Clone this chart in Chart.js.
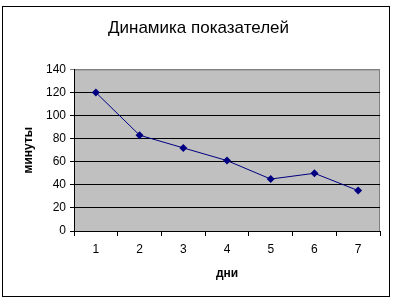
<!DOCTYPE html>
<html lang="ru">
<head>
  <meta charset="UTF-8" />
  <title>Динамика показателей</title>
  <script src="https://cdn.jsdelivr.net/npm/chart.js"></script>
  <style>
    html, body { margin: 0; padding: 0; background: #fff; }
    #wrap { width: 397px; height: 303px; position: relative; }
  </style>
</head>
<body>
  <div id="wrap"><canvas id="myChart" width="397" height="303"></canvas></div>

  <script>
    // chart data
    const days = ['1', '2', '3', '4', '5', '6', '7'];
    const minutes = [120, 83, 72, 61, 45, 50, 35];
    const yTicks = [0, 20, 40, 60, 80, 100, 120, 140];

    const chartTitle = 'Динамика показателей';
    const xTitle = 'дни';
    const yTitle = 'минуты';

    // grey plot area + outer black frame
    const frame = {
      id: 'frame',
      beforeDraw(chart) {
        const { ctx, chartArea: a } = chart;
        ctx.save();
        ctx.fillStyle = '#c0c0c0';
        ctx.fillRect(a.left, a.top, a.right - a.left, a.bottom - a.top);
        ctx.strokeStyle = '#808080';
        ctx.lineWidth = 1;
        ctx.strokeRect(a.left + 0.5, a.top + 0.5, a.right - a.left - 1, a.bottom - a.top);
        ctx.strokeStyle = '#000';
        ctx.strokeRect(2.5, 6.5, 387, 290);
        ctx.restore();
      }
    };

    Chart.defaults.font.family = 'Arial, "Liberation Sans", sans-serif';
    Chart.defaults.color = '#000';

    new Chart(document.getElementById('myChart').getContext('2d'), {
      type: 'line',
      data: {
        labels: days,
        datasets: [{
          data: minutes,
          borderColor: '#000080',
          backgroundColor: '#000080',
          borderWidth: 1,
          pointStyle: 'rectRot',
          pointRadius: 4,
          pointBorderWidth: 0,
          tension: 0
        }]
      },
      options: {
        responsive: false,
        animation: false,
        layout: { padding: { top: 8, left: 17, right: 17, bottom: 18 } },
        plugins: {
          legend: { display: false },
          tooltip: { enabled: false },
          title: {
            display: true,
            text: chartTitle,
            font: { size: 17, weight: 'normal' },
            padding: { top: 10, bottom: 31 }
          }
        },
        scales: {
          x: {
            offset: true,
            grid: { offset: true, drawOnChartArea: false, color: '#000', tickLength: 5 },
            border: { color: '#000' },
            ticks: { font: { size: 12 }, padding: 6 },
            title: { display: true, text: xTitle, font: { size: 12, weight: 'bold' }, padding: { top: 6 } },
            afterFit(scale) { scale.height = 54; }
          },
          y: {
            min: 0,
            max: 140,
            afterBuildTicks(scale) { scale.ticks = yTicks.map(v => ({ value: v })); },
            grid: {
              color: c => (c.tick && c.tick.value === 140) ? '#808080' : '#000',
              tickLength: 4
            },
            border: { color: '#000' },
            ticks: { font: { size: 12 }, padding: 4 },
            title: { display: true, text: yTitle, font: { size: 12, weight: 'bold' }, padding: { bottom: 8 } },
            afterFit(scale) { scale.width = 57; }
          }
        }
      },
      plugins: [frame]
    });
  </script>
</body>
</html>
